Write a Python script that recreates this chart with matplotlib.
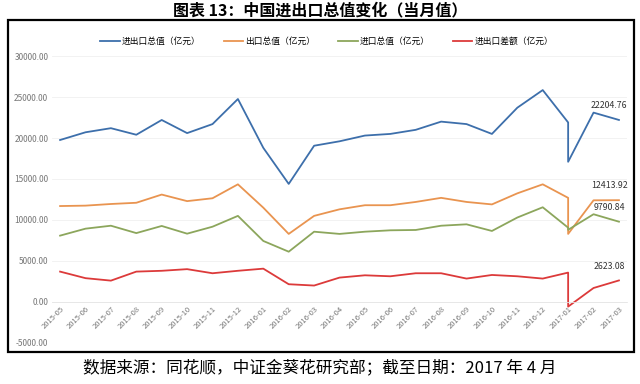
"""China monthly import/export totals, 2015-05 to 2017-03."""
import matplotlib
matplotlib.use("Agg")
import matplotlib.pyplot as plt  # noqa: E402
from matplotlib.patches import Rectangle  # noqa: E402

plt.rcParams["font.family"] = ["Noto Sans CJK SC", "DejaVu Sans"]

# 2017-01 appears twice in the source chart (vertical drop at that month)
months = ["2015-05", "2015-06", "2015-07", "2015-08", "2015-09", "2015-10",
          "2015-11", "2015-12", "2016-01", "2016-02", "2016-03", "2016-04",
          "2016-05", "2016-06", "2016-07", "2016-08", "2016-09", "2016-10",
          "2016-11", "2016-12", "2017-01", "2017-01", "2017-02", "2017-03"]
total = [19760, 20700, 21200, 20400, 22200, 20600, 21700, 24760, 18800, 14400,
         19060, 19600, 20300, 20500, 21000, 22000, 21700, 20500, 23700, 25850,
         21900, 17100, 23100, 22204.76]
exports = [11700, 11750, 11950, 12100, 13100, 12300, 12650, 14350, 11500, 8300,
           10500, 11300, 11800, 11800, 12200, 12700, 12200, 11900, 13250, 14350,
           12700, 8300, 12400, 12413.92]
imports = [8090, 8940, 9300, 8400, 9270, 8330, 9180, 10500, 7440, 6130,
           8570, 8300, 8570, 8740, 8780, 9300, 9470, 8660, 10300, 11550,
           9060, 8800, 10700, 9790.84]
balance = [3700, 2900, 2600, 3700, 3800, 4000, 3500, 3800, 4060, 2160,
           2000, 2970, 3250, 3130, 3500, 3500, 2850, 3290, 3130, 2850,
           3580, -570, 1700, 2623.08]

series = [
    ("进出口总值（亿元）", total, "#3d6fab"),
    ("出口总值（亿元）", exports, "#e99450"),
    ("进口总值（亿元）", imports, "#8ca65c"),
    ("进出口差额（亿元）", balance, "#dc3a3a"),
]

fig = plt.figure(figsize=(6.4, 3.84), dpi=100)
ax = fig.add_axes([0.082, 0.107, 0.897, 0.747])

for name, vals, col in series:
    ax.plot(months, vals, color=col, lw=1.3, label=name)
    ax.annotate(f"{vals[-1]:.2f}", (months[-1], vals[-1]),
                xytext=(-7, 7), textcoords="offset points",
                ha="center", va="bottom", fontsize=6.3, color="#333333")

ax.set_ylim(-5000, 30000)
ax.set_xlim(-0.3, 22.3)
ax.set_yticks(range(-5000, 30001, 5000))
ax.set_yticklabels([f"{v:.2f}" for v in range(-5000, 30001, 5000)])
ax.grid(axis="y", color="#f0f0f0", lw=0.6)
ax.set_axisbelow(True)

for s in ["top", "right", "left"]:
    ax.spines[s].set_visible(False)
ax.spines["bottom"].set_position(("data", 0))
ax.spines["bottom"].set_color("#e6e6e6")
ax.spines["bottom"].set_linewidth(0.6)
ax.tick_params(axis="both", length=0, colors="#777777")
ax.tick_params(axis="y", labelsize=6, pad=3)
ax.tick_params(axis="x", labelsize=5.5, pad=2)
for lab in ax.get_xticklabels():
    lab.set_rotation(45)
    lab.set_ha("right")
    lab.set_va("top")
    lab.set_rotation_mode("anchor")

ax.legend(loc="center", bbox_to_anchor=(0.478, 1.05), ncol=4,
          frameon=False, fontsize=6.3, handlelength=2.2, columnspacing=2.6,
          handletextpad=0.3)

fig.patches.append(Rectangle((0.0125, 0.0833), 0.978, 0.865,
                             transform=fig.transFigure, fill=False,
                             edgecolor="black", lw=1.6))
fig.text(0.5, 0.972, "图表 13：中国进出口总值变化（当月值）", ha="center",
         va="center", fontsize=11.5, fontweight="bold")
fig.text(0.5, 0.043, "数据来源：同花顺，中证金葵花研究部；截至日期：2017 年 4 月",
         ha="center", va="center", fontsize=12)

fig.savefig("out.png", dpi=100)
